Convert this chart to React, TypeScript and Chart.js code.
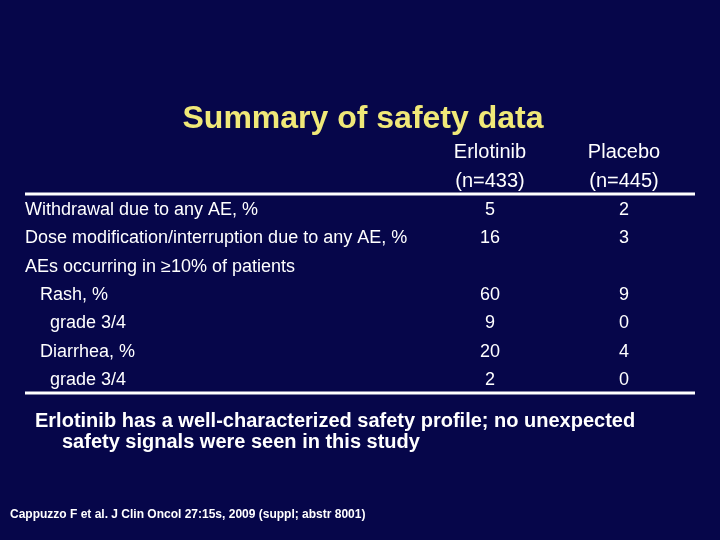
import React, { useEffect, useRef } from "react";
import { Chart, registerables } from "chart.js";

Chart.register(...registerables);

const slideTitle = "Summary of safety data";
const columnLabels = ["Erlotinib", "Placebo"];
const columnSubLabels = ["(n=433)", "(n=445)"];
const rowLabels = [
  "Withdrawal due to any AE, %",
  "Dose modification/interruption due to any AE, %",
  "AEs occurring in \u226510% of patients",
  "Rash, %",
  "grade 3/4",
  "Diarrhea, %",
  "grade 3/4",
];
const rowKeys = ["withdrawal", "dosemod", "aes", "rash", "rashG34", "diarrhea", "diarrheaG34"];
const rowIndentLevels = [0, 0, 0, 1, 2, 1, 2];
const erlotinibValues: (number | null)[] = [5, 16, null, 60, 9, 20, 2];
const placeboValues: (number | null)[] = [2, 3, null, 9, 0, 4, 0];
const conclusionLines = [
  "Erlotinib has a well-characterized safety profile; no unexpected",
  "safety signals were seen in this study",
];
const citation = "Cappuzzo F et al. J Clin Oncol 27:15s, 2009 (suppl; abstr 8001)";

const BG = "#06064a";
const TITLE_COLOR = "#f0e878";
const FONT = "'Liberation Sans', Arial, sans-serif";

function buildData(col: string, values: (number | null)[]) {
  const out: { x: string; y: string; v: number }[] = [];
  values.forEach((v, i) => {
    if (v !== null) out.push({ x: col, y: rowKeys[i], v });
  });
  return out;
}

const tablePlugin = {
  id: "tablePlugin",
  beforeDraw(chart: any) {
    const { ctx, width, height } = chart;
    ctx.save();
    ctx.fillStyle = BG;
    ctx.fillRect(0, 0, width, height);
    ctx.restore();
  },
  afterDatasetsDraw(chart: any) {
    const { ctx, chartArea } = chart;
    const xScale = chart.scales.x;
    const yScale = chart.scales.y;
    ctx.save();
    // title
    ctx.fillStyle = TITLE_COLOR;
    ctx.font = `bold 32px ${FONT}`;
    ctx.textAlign = "center";
    ctx.textBaseline = "middle";
    ctx.fillText(slideTitle, 363, 119);

    // column headers
    ctx.fillStyle = "#ffffff";
    ctx.font = `20px ${FONT}`;
    columnLabels.forEach((lab, i) => {
      const x = xScale.getPixelForValue(i);
      ctx.fillText(lab, x, chartArea.top - 44);
      ctx.fillText(columnSubLabels[i], x, chartArea.top - 15);
    });

    // rules
    ctx.strokeStyle = "#ffffff";
    ctx.lineWidth = 3;
    [chartArea.top - 2, chartArea.bottom - 1].forEach((y) => {
      ctx.beginPath();
      ctx.moveTo(25, y);
      ctx.lineTo(chartArea.right + 4, y);
      ctx.stroke();
    });

    // row labels
    ctx.textAlign = "left";
    ctx.font = `18px ${FONT}`;
    rowLabels.forEach((lab, i) => {
      const y = yScale.getPixelForValue(i);
      const indent = rowIndentLevels[i] === 0 ? 0 : rowIndentLevels[i] === 1 ? 15 : 25;
      ctx.fillText(lab, 25 + indent, y);
    });

    // values
    ctx.textAlign = "center";
    chart.data.datasets.forEach((ds: any, di: number) => {
      const meta = chart.getDatasetMeta(di);
      meta.data.forEach((el: any, j: number) => {
        ctx.fillText(String(ds.data[j].v), el.x, el.y);
      });
    });

    // conclusion
    ctx.textAlign = "left";
    ctx.font = `bold 20px ${FONT}`;
    ctx.fillText(conclusionLines[0], 35, 421);
    ctx.fillText(conclusionLines[1], 62, 442);

    // citation
    ctx.font = `bold 12px ${FONT}`;
    ctx.fillText(citation, 10, 515);
    ctx.restore();
  },
};

export default function App() {
  const ref = useRef<HTMLCanvasElement | null>(null);
  useEffect(() => {
    if (!ref.current) return;
    const chart = new Chart(ref.current, {
      type: "scatter",
      data: {
        datasets: [
          { label: columnLabels[0], data: buildData(columnLabels[0], erlotinibValues) as any, pointRadius: 0 },
          { label: columnLabels[1], data: buildData(columnLabels[1], placeboValues) as any, pointRadius: 0 },
        ],
      },
      options: {
        animation: false,
        responsive: false,
        events: [],
        layout: { padding: { left: 423, right: 29, top: 196, bottom: 146 } },
        plugins: { legend: { display: false }, tooltip: { enabled: false } },
        scales: {
          x: { type: "category", labels: columnLabels, offset: true, display: false },
          y: { type: "category", labels: rowKeys, offset: true, display: false },
        },
      },
      plugins: [tablePlugin],
    });
    return () => chart.destroy();
  }, []);
  return (
    <div style={{ position: "fixed", left: 0, top: 0, width: 720, height: 540, background: BG }}>
      <canvas ref={ref} width={720} height={540} style={{ display: "block" }} />
    </div>
  );
}
